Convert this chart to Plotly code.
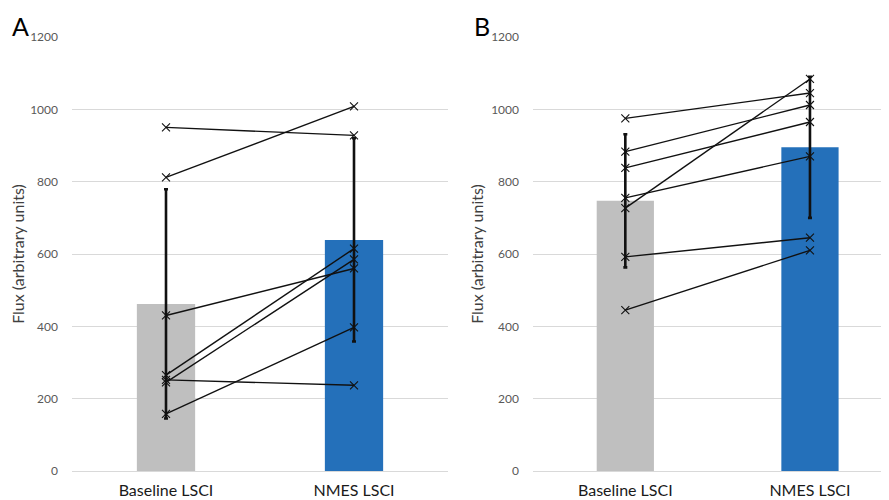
import plotly.graph_objects as go

categories = ["Baseline LSCI", "NMES LSCI"]

# Panel A
a_means = [462, 639]
a_sd = [317, 281]
a_baseline = [950, 812, 430, 265, 245, 252, 158]
a_nmes = [928, 1008, 560, 615, 585, 237, 397]

# Panel B
b_means = [747, 895]
b_sd = [184, 195]
b_baseline = [975, 883, 838, 755, 727, 592, 445]
b_nmes = [1045, 1012, 965, 870, 1084, 645, 610]

y_ticks = [0, 200, 400, 600, 800, 1000, 1200]
bar_colors = ["#bfbfbf", "#2470ba"]
font_family = "Lato, 'Open Sans', sans-serif"

fig = go.Figure()
pos = list(range(len(categories)))


def add_panel(means, sd, base, nmes, xa, ya):
    fig.add_trace(go.Bar(
        x=pos, y=means, width=0.31, marker=dict(color=bar_colors, line=dict(width=0)),
        error_y=dict(type="data", array=sd, visible=True, color="#111111", thickness=2.6, width=2),
        xaxis=xa, yaxis=ya, showlegend=False, hoverinfo="skip"))
    for b, n in zip(base, nmes):
        fig.add_trace(go.Scatter(
            x=pos, y=[b, n], mode="lines+markers",
            line=dict(color="#111111", width=1.4),
            marker=dict(symbol="x-thin", size=8, line=dict(color="#111111", width=1.1)),
            xaxis=xa, yaxis=ya, showlegend=False, hoverinfo="skip"))


add_panel(a_means, a_sd, a_baseline, a_nmes, "x", "y")
add_panel(b_means, b_sd, b_baseline, b_nmes, "x2", "y2")

# the page body adds an 8px offset; figure sized to fit the 889x500 window exactly
OFF = 8
W, H = 889 - OFF, 500 - OFF


def fx(px):
    return (px - OFF) / W


def fy(py):
    return 1 - (py - OFF) / H


ydom = [fy(471), fy(37)]

yax = dict(range=[0, 1200], tickvals=y_ticks, showgrid=True, gridcolor="#d9d9d9", gridwidth=1,
           zeroline=False, showline=False, ticks="", ticklabelstandoff=13, automargin=False,
           tickfont=dict(family=font_family, size=12, color="#595959"),
           title=dict(text="Flux (arbitrary units)", standoff=3,
                      font=dict(family=font_family, size=16, color="#404040")),
           domain=ydom)
xax = dict(tickvals=pos, ticktext=categories, showgrid=False, zeroline=False, automargin=False,
           showline=True, linecolor="#d9d9d9", linewidth=1, ticks="", ticklabelstandoff=5,
           tickfont=dict(family=font_family, size=16, color="#1a1a1a"))

fig.update_layout(
    width=W, height=H, margin=dict(l=0, r=0, t=0, b=0, autoexpand=False),
    paper_bgcolor="white", plot_bgcolor="white",
    xaxis=dict(xax, domain=[fx(72), fx(448)], range=[-0.5, 1.5], anchor="y"),
    yaxis=dict(yax, anchor="x"),
    xaxis2=dict(xax, domain=[fx(533), 1.0], range=[-0.5, 1.428], anchor="y2"),
    yaxis2=dict(yax, anchor="x2"),
    annotations=[
        dict(text="A", x=fx(10), y=fy(9), xref="paper", yref="paper", xanchor="left",
             yanchor="top", showarrow=False, font=dict(family=font_family, size=25, color="#000")),
        dict(text="B", x=fx(472), y=fy(9), xref="paper", yref="paper", xanchor="left",
             yanchor="top", showarrow=False, font=dict(family=font_family, size=25, color="#000")),
    ],
)

fig.write_html("out.html")
